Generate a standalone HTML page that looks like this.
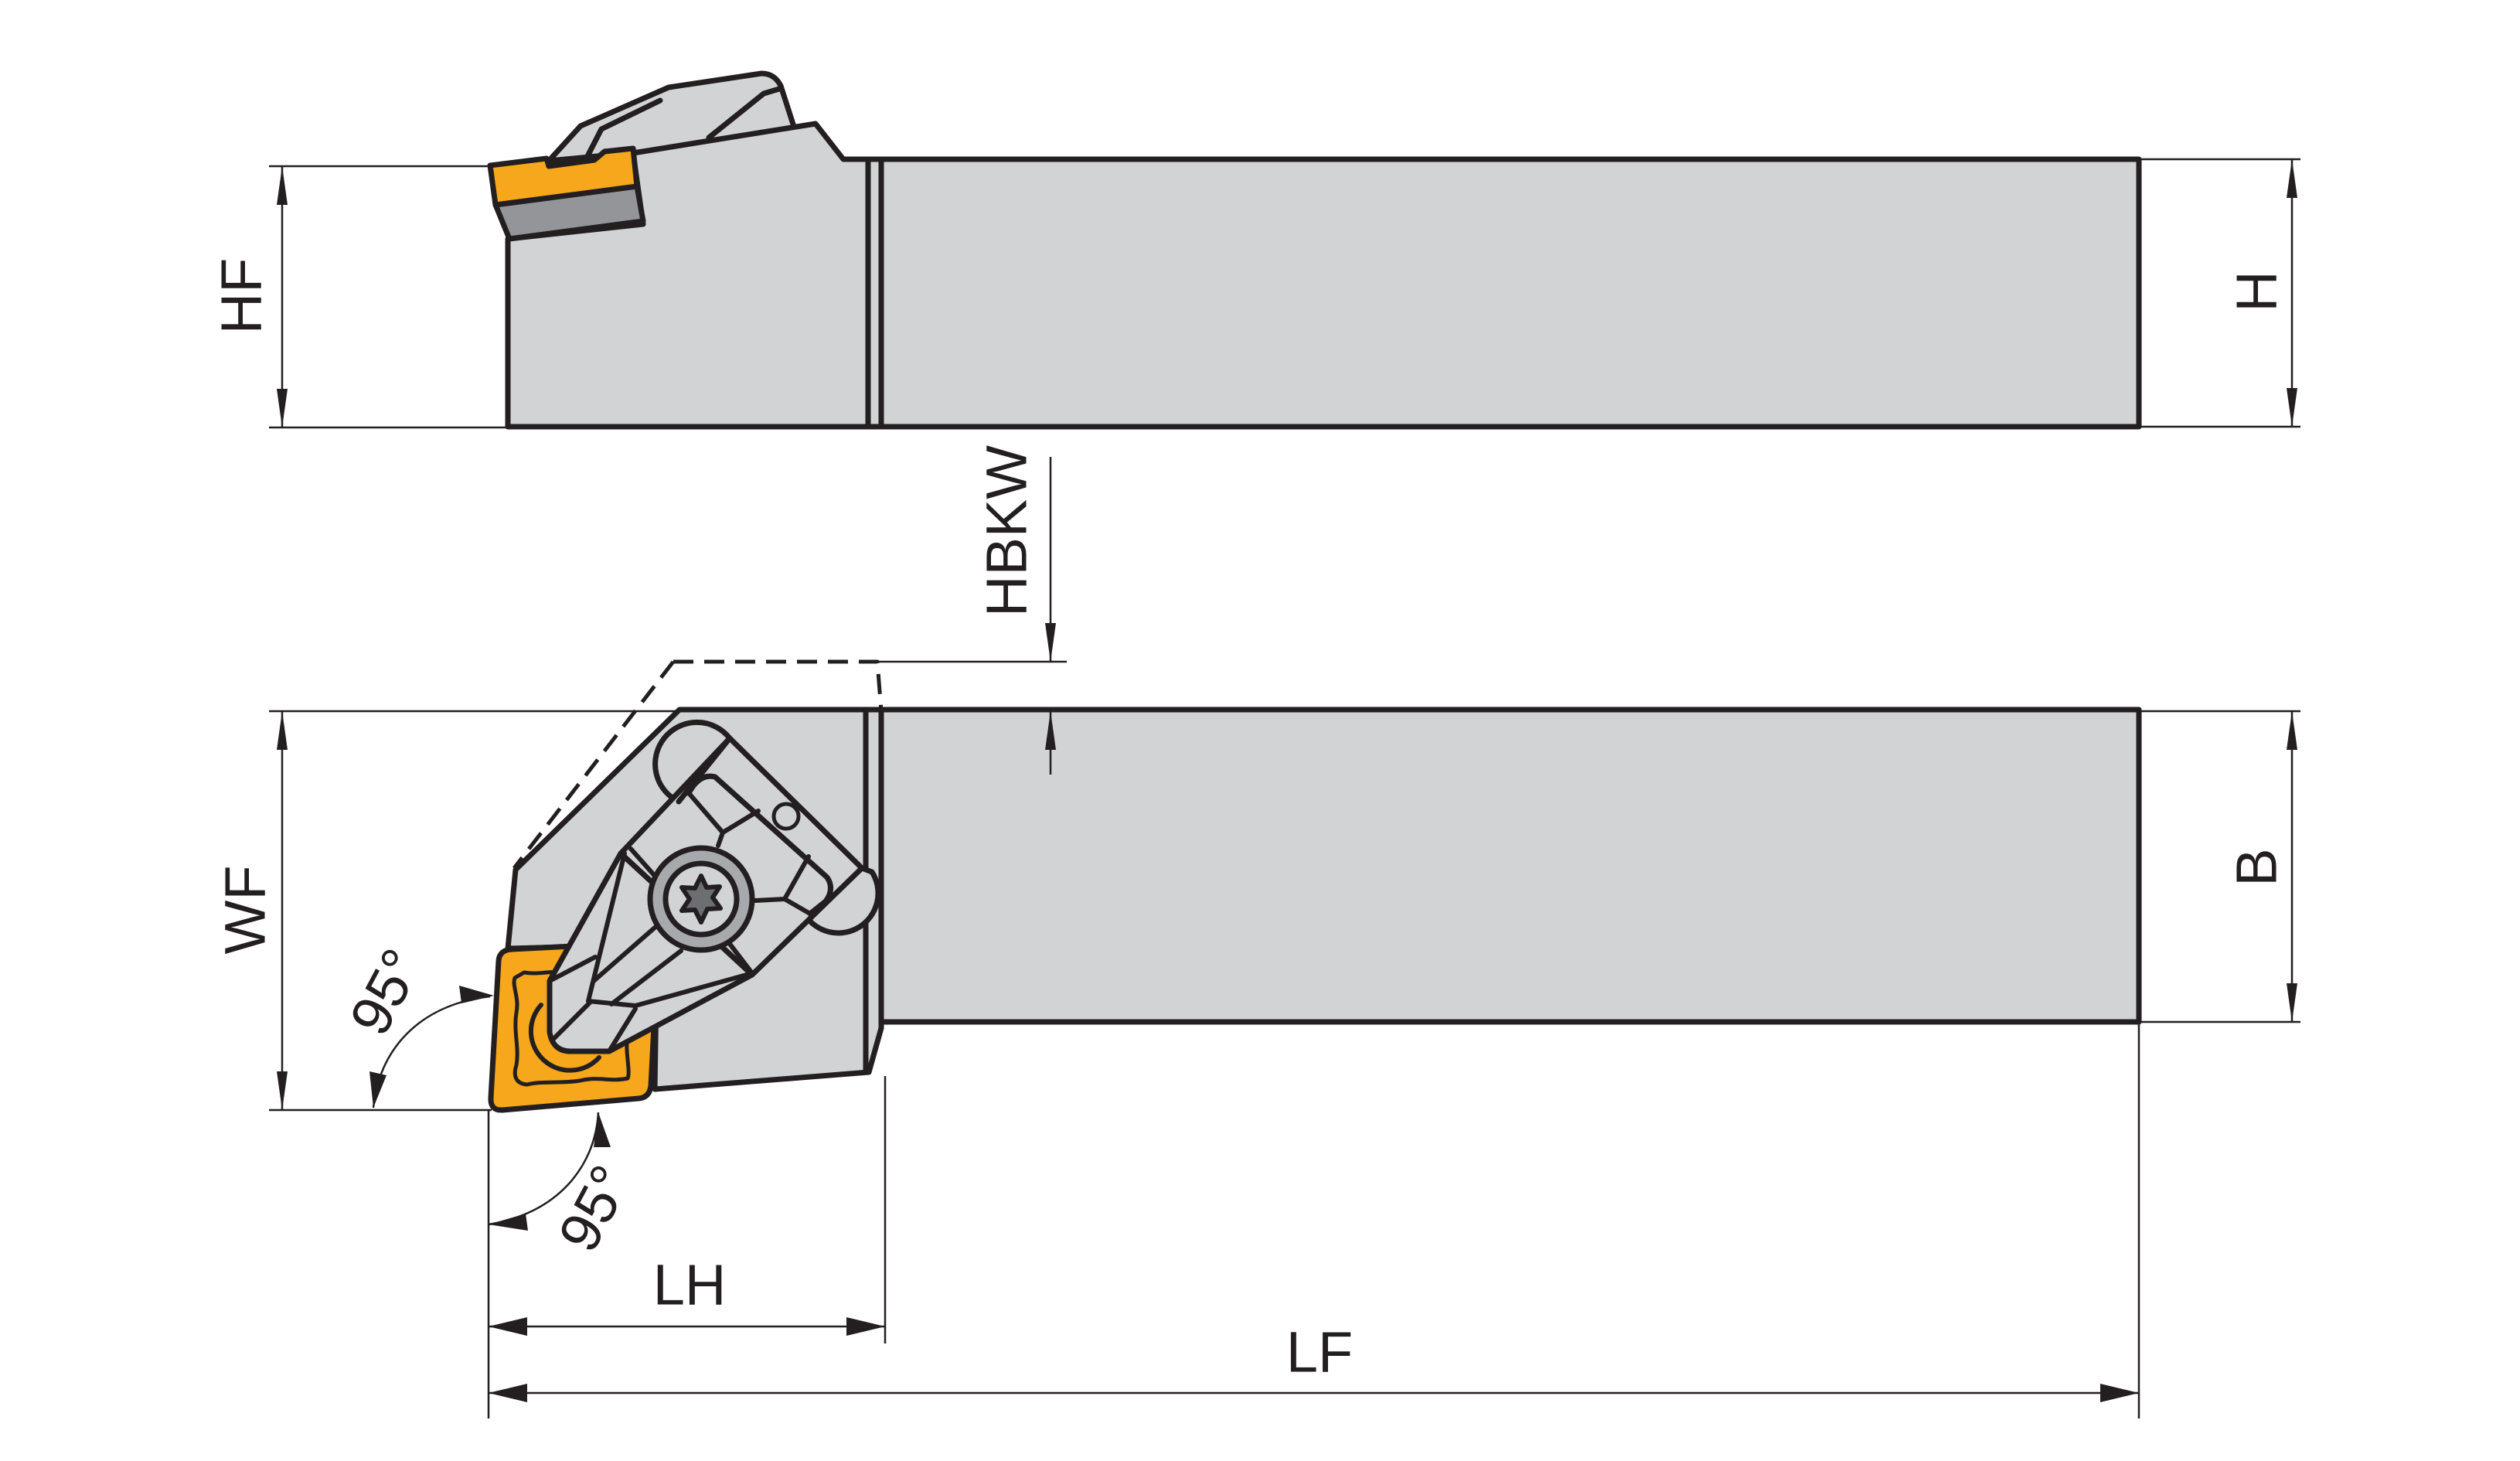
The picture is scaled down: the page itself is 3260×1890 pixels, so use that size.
<!DOCTYPE html>
<html><head><meta charset="utf-8"><style>
html,body{margin:0;padding:0;background:#fff;}
svg{display:block;}
text{font-family:"Liberation Sans",sans-serif;fill:#231f20;}
</style></head><body>
<svg width="3260" height="1890" viewBox="0 0 3260 1890" xmlns="http://www.w3.org/2000/svg">
<rect width="3260" height="1890" fill="#fff"/>
<g stroke="#231f20" stroke-linejoin="round" stroke-linecap="round">
<!-- ===== TOP VIEW ===== -->
<!-- clamp -->
<path d="M710,208 L751,163 L865,113 L985,95 Q1002,95 1010,111 L1029,170 L900,190 Z" fill="#d1d3d4" stroke-width="7"/>
<polyline points="759,204 778,167 854,130" fill="none" stroke-width="7"/>
<polyline points="917,178 988,121 1008,115" fill="none" stroke-width="7"/>
<!-- body -->
<path d="M657,552 L657,309 L832,290 L819,198 L1055,160 L1091,206 L2767,206 L2767,552 Z" fill="#d1d3d4" stroke-width="7"/>
<line x1="1123" y1="206" x2="1123" y2="552" stroke-width="7"/>
<line x1="1140" y1="206" x2="1140" y2="552" stroke-width="7"/>
<!-- shim -->
<path d="M641,265 L824,241 L832,286 L659,309 Z" fill="#939598" stroke-width="7"/>
<!-- insert -->
<path d="M634,214 L707,205 L710,215 L769,207 L782,196 L819,192 L824,241 L641,265 Z" fill="#f6a71b" stroke-width="7"/>

<!-- ===== BOTTOM VIEW ===== -->
<path d="M871,856 L1135,856 L1140,920" fill="none" stroke-width="5" stroke-dasharray="26,14" stroke-linecap="butt"/>
<path d="M871,856 L665,1123" fill="none" stroke-width="5" stroke-dasharray="26,14" stroke-linecap="butt"/>
<!-- body -->
<path d="M879,918 L2767,918 L2767,1322 L1140,1322 L1140,1330 L1124,1387 L847,1409 L850,1222 L657,1227 L667,1125 Z" fill="#d1d3d4" stroke-width="7"/>
<line x1="1120" y1="918" x2="1120" y2="1383" stroke-width="7"/>
<line x1="1140" y1="918" x2="1140" y2="1330" stroke-width="7"/>
<!-- insert -->
<path d="M662,1228 L838,1219 Q852,1219 851,1232 L842,1405 Q840,1420 826,1421 L650,1436 Q634,1437 635,1420 L645,1243 Q646,1229 662,1228 Z" fill="#f6a71b" stroke-width="7"/>
<path d="M678,1258 C700,1262 720,1252 745,1262 L805,1262 L812,1340 C808,1360 816,1385 812,1395 C790,1400 775,1392 750,1398 C725,1402 700,1398 682,1403 C666,1402 664,1390 668,1378 C672,1355 664,1335 668,1310 C672,1290 662,1275 666,1265 Z" fill="#f6a71b" stroke-width="5"/>
<!-- clamp lobes -->
<path d="M878,1037 A54,54 0 1 1 944,955" fill="#d1d3d4" stroke-width="7"/>
<path d="M1041,1183 A50,50 0 0 0 1128,1128 L1115,1123 Z" fill="#d1d3d4" stroke-width="7"/>
<!-- clamp big wedge -->
<path d="M803,1104 L944,955 L1115,1123 L973,1261 Z" fill="#d1d3d4" stroke-width="7"/>
<path d="M878,1037 L944,955" fill="none" stroke-width="7"/>
<path d="M891,1026 Q905,1000 925,1005 L1070,1135 Q1080,1150 1068,1166 L1048,1182" fill="none" stroke-width="7"/>
<circle cx="1017" cy="1056" r="16" fill="#d1d3d4" stroke-width="5"/>
<!-- internal lines -->
<polyline points="929,1094 935,1077 981,1049" fill="none" stroke-width="6"/>
<line x1="935" y1="1077" x2="891" y2="1026" stroke-width="6"/>
<polyline points="977,1165 1015,1163 1046,1108" fill="none" stroke-width="6"/>
<line x1="1015" y1="1163" x2="1048" y2="1182" stroke-width="6"/>
<line x1="816" y1="1098" x2="847" y2="1133" stroke-width="6"/>
<line x1="944" y1="1221" x2="973" y2="1259" stroke-width="6"/>
<!-- lower pointed clamp -->
<path d="M803,1104 L711,1269 L711,1335 Q715,1360 738,1360 L788,1360 L973,1261 Z" fill="#d1d3d4" stroke-width="7"/>
<path d="M700,1300 A46,46 0 0 0 775,1368" fill="none" stroke-width="6"/>
<polyline points="808,1104 761,1295 822,1301 973,1259" fill="none" stroke-width="6"/>
<line x1="715" y1="1345" x2="763" y2="1297" stroke-width="6"/>
<line x1="788" y1="1360" x2="822" y2="1305" stroke-width="6"/>
<line x1="711" y1="1269" x2="770" y2="1238" stroke-width="6"/>
<line x1="768" y1="1269" x2="847" y2="1200" stroke-width="6"/>
<line x1="791" y1="1299" x2="881" y2="1230" stroke-width="6"/>
<!-- screw -->
<circle cx="907" cy="1163" r="66" fill="#a7a9ac" stroke-width="7"/>
<circle cx="907" cy="1163" r="46" fill="#d1d3d4" stroke-width="7"/>
<path d="M907,1133 L914,1148 L931,1147 L922,1161 L932,1175 L915,1176 L907,1193 L899,1177 L882,1178 L892,1163 L882,1148 L899,1149 Z" fill="#6d6e71" stroke-width="6"/>
</g>

<!-- ===== DIMENSIONS ===== -->
<g stroke="#231f20" stroke-width="2.5" fill="none">
<line x1="348" y1="215" x2="634" y2="215"/>
<line x1="348" y1="553" x2="657" y2="553"/>
<line x1="365" y1="215" x2="365" y2="553"/>
<line x1="2767" y1="206" x2="2976" y2="206"/>
<line x1="2767" y1="552" x2="2976" y2="552"/>
<line x1="2965" y1="206" x2="2965" y2="552"/>
<line x1="1359" y1="591" x2="1359" y2="856"/>
<line x1="1135" y1="856" x2="1380" y2="856"/>
<line x1="1359" y1="920" x2="1359" y2="1002"/>
<line x1="348" y1="920" x2="879" y2="920"/>
<line x1="1140" y1="920" x2="1380" y2="920"/>
<line x1="348" y1="1436" x2="636" y2="1436"/>
<line x1="365" y1="920" x2="365" y2="1436"/>
<line x1="2767" y1="920" x2="2976" y2="920"/>
<line x1="2767" y1="1322" x2="2976" y2="1322"/>
<line x1="2965" y1="920" x2="2965" y2="1322"/>
<line x1="632" y1="1436" x2="632" y2="1835"/>
<line x1="1145" y1="1392" x2="1145" y2="1738"/>
<line x1="2767" y1="1322" x2="2767" y2="1835"/>
<line x1="632" y1="1716" x2="1145" y2="1716"/>
<line x1="632" y1="1802" x2="2767" y2="1802"/>
<path d="M483,1433 C490,1360 540,1300 634,1289"/>
<path d="M774,1439 C770,1510 720,1570 632,1584"/>
</g>
<g fill="#231f20">
<polygon points="365,215 358,265 372,265"/><polygon points="365,553 358,503 372,503"/>
<polygon points="2965,206 2958,256 2972,256"/><polygon points="2965,552 2958,502 2972,502"/>
<polygon points="1359,856 1352,806 1366,806"/><polygon points="1359,920 1352,970 1366,970"/>
<polygon points="365,920 358,970 372,970"/><polygon points="365,1436 358,1386 372,1386"/>
<polygon points="2965,920 2958,970 2972,970"/><polygon points="2965,1322 2958,1272 2972,1272"/>
<polygon points="632,1716 682,1704 682,1728"/><polygon points="1145,1716 1095,1704 1095,1728"/>
<polygon points="632,1802 682,1790 682,1814"/><polygon points="2767,1802 2717,1790 2717,1814"/>
<polygon points="483,1433 478,1386 500,1391"/>
<polygon points="639,1288 594,1275 597,1298"/>
<polygon points="774,1439 768,1484 790,1484"/>
<polygon points="632,1584 680,1570 683,1592"/>
</g>
<g font-size="74">
<text x="312" y="383" text-anchor="middle" dominant-baseline="central" transform="rotate(-90 312 383)">HF</text>
<text x="2919" y="377" text-anchor="middle" dominant-baseline="central" transform="rotate(-90 2919 377)">H</text>
<text x="1302" y="687" text-anchor="middle" dominant-baseline="central" transform="rotate(-90 1302 687)">HBKW</text>
<text x="317" y="1177" text-anchor="middle" dominant-baseline="central" transform="rotate(-90 317 1177)">WF</text>
<text x="2919" y="1122" text-anchor="middle" dominant-baseline="central" transform="rotate(-90 2919 1122)">B</text>
<text x="892" y="1662" text-anchor="middle" dominant-baseline="central">LH</text>
<text x="1707" y="1749" text-anchor="middle" dominant-baseline="central">LF</text>
<text x="499" y="1283" text-anchor="middle" dominant-baseline="central" transform="rotate(-62 499 1283)">95°</text>
<text x="769" y="1563" text-anchor="middle" dominant-baseline="central" transform="rotate(-62 769 1563)">95°</text>
</g>
</svg>
</body></html>
